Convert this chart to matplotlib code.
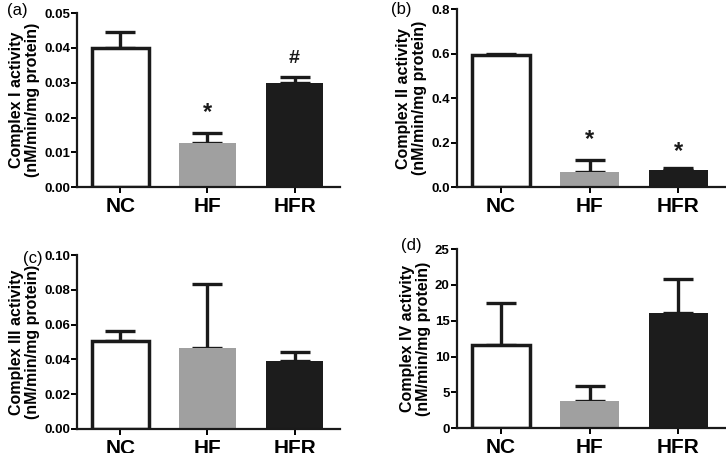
import numpy as np
import matplotlib
matplotlib.use('Agg')
import matplotlib.pyplot as plt

plt.rcParams['font.family'] = ['Liberation Sans', 'DejaVu Sans']

groups = ['NC', 'HF', 'HFR']
bar_colors = ['white', '#a0a0a0', '#1c1c1c']

# means and upper error (SD) for each complex
c1_mean = [0.040, 0.0128, 0.030]
c1_err = [0.0047, 0.0027, 0.0016]
c2_mean = [0.595, 0.070, 0.075]
c2_err = [0.003, 0.050, 0.010]
c3_mean = [0.0505, 0.0465, 0.0392]
c3_err = [0.0057, 0.0368, 0.0052]
c4_mean = [11.6, 3.8, 16.1]
c4_err = [5.9, 2.1, 4.7]

# significance marks: (bar index, text, y position)
c1_marks = [(1, '*', 0.0215), (2, '#', 0.0370)]
c2_marks = [(1, '*', 0.215), (2, '*', 0.160)]

panels = [
    ('(a)', 'Complex I activity', c1_mean, c1_err, (0, 0.05), np.arange(0, 0.051, 0.01), '%.2f', c1_marks,
     [0.106, 0.587, 0.362, 0.384]),
    ('(b)', 'Complex II activity', c2_mean, c2_err, (0, 0.8), np.arange(0, 0.81, 0.2), '%.1f', c2_marks,
     [0.629, 0.587, 0.369, 0.393]),
    ('(c)', 'Complex III activity', c3_mean, c3_err, (0, 0.10), np.arange(0, 0.101, 0.02), '%.2f', [],
     [0.106, 0.053, 0.362, 0.384]),
    ('(d)', 'Complex IV activity', c4_mean, c4_err, (0, 25), np.arange(0, 26, 5), '%d', [],
     [0.629, 0.055, 0.369, 0.395]),
]
label_pos = [(0.009, 0.993), (0.538, 0.995), (0.031, 0.447), (0.553, 0.475)]

fig = plt.figure(figsize=(7.26, 4.53), dpi=100)

for k, (tag, name, mean, err, ylim, ticks, fmt, marks, rect) in enumerate(panels):
    ax = fig.add_axes(rect)
    x = np.arange(len(groups))
    ax.errorbar(x, mean, yerr=[np.zeros(3), err], fmt='none', ecolor='#1a1a1a',
                elinewidth=2.4, capsize=11, capthick=2.4, zorder=1)
    for i in range(3):
        ec = '#1a1a1a' if i == 0 else bar_colors[i]
        lw = 2.5 if i == 0 else 0
        ax.bar(x[i], mean[i], width=0.66, color=bar_colors[i], edgecolor=ec,
               linewidth=lw, zorder=2)
    for i, s, yy in marks:
        ax.text(i, yy, s, ha='center', va='center', fontsize=17 if s == '*' else 14,
                fontweight='bold', color='#1a1a1a')
    ax.set_xlim(-0.5, 2.52)
    ax.set_ylim(*ylim)
    ax.set_yticks(ticks)
    ax.set_yticklabels([fmt % t for t in ticks], fontsize=9.5, fontweight='bold')
    ax.set_xticks(x)
    ax.set_xticklabels(groups, fontsize=15, fontweight='bold')
    for sp in ['top', 'right']:
        ax.spines[sp].set_visible(False)
    for sp in ['left', 'bottom']:
        ax.spines[sp].set_linewidth(1.6)
        ax.spines[sp].set_color('#1a1a1a')
    ax.tick_params(axis='y', length=4, width=1.4, pad=1)
    ax.tick_params(axis='x', length=4, width=1.4, pad=3)
    ax.set_ylabel(name + '\n(nM/min/mg protein)', fontsize=11.5, fontweight='bold',
                  labelpad=3, linespacing=1.1)
    fig.text(label_pos[k][0], label_pos[k][1], tag, fontsize=12, va='top', ha='left')

fig.savefig('out.png', dpi=100)
